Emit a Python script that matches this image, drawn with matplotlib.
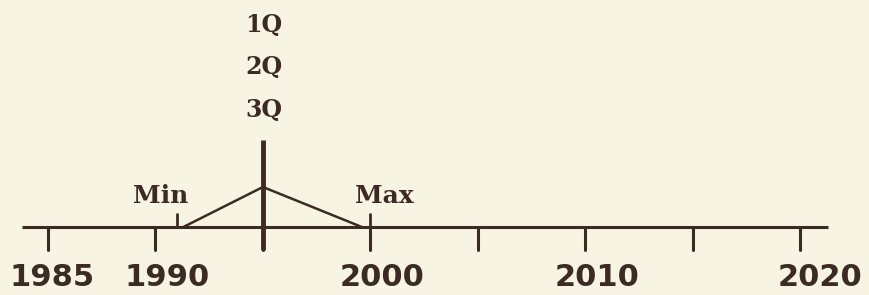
import matplotlib.pyplot as plt

# timeline data
years = [1985, 1990, 1995, 2000, 2005, 2010, 2015, 2020]
year_labels = ["1985", "1990", "", "2000", "", "2010", "", "2020"]
label_shift = [0.2, 0.55, 0, 0.55, 0, 0.55, 0, 0.9]
min_year = 1991
max_year = 2000
mode_year = 1995
tri_x = [1991.3, 1995, 1999.6]
tri_y = [0, 40, 0]
quartiles = ["1Q", "2Q", "3Q"]
q_heights = [202, 160, 117]

bg = "#f8f4e3"
ink = "#3b2b24"

fig = plt.figure(figsize=(8.69, 2.95), dpi=100, facecolor=bg)
ax = fig.add_axes([0, 0, 1, 1])
ax.set_facecolor(bg)
ax.set_xlim(1982.77, 2023.19)
ax.set_ylim(-68, 227)
ax.axis("off")

# main axis line
ax.plot([1983.8, 2021.3], [0, 0], color=ink, lw=2.2, solid_capstyle="butt")

for yr, lab, dx in zip(years, year_labels, label_shift):
    ax.plot([yr, yr], [0, -23], color=ink, lw=2.2, solid_capstyle="round")
    if lab:
        ax.text(yr + dx, -50, lab, ha="center", va="center", color=ink,
                fontsize=22, fontweight="bold", family="DejaVu Sans")

# min / max markers
ax.plot([min_year, min_year], [0, 14], color=ink, lw=2, solid_capstyle="butt")
ax.plot([max_year, max_year], [0, 14], color=ink, lw=2, solid_capstyle="butt")
ax.text(1990.25, 31, "Min", ha="center", va="center", color=ink,
        fontsize=18, fontweight="bold", family="DejaVu Serif")
ax.text(2000.65, 31, "Max", ha="center", va="center", color=ink,
        fontsize=18, fontweight="bold", family="DejaVu Serif")

# triangular distribution
ax.plot(tri_x, tri_y, color=ink, lw=1.8)

# mode line with quartile labels
ax.plot([mode_year, mode_year], [-23, 87], color=ink, lw=3.5, solid_capstyle="butt")
for q, h in zip(quartiles, q_heights):
    ax.text(mode_year + 0.05, h, q, ha="center", va="center", color=ink,
            fontsize=17, fontweight="bold", family="DejaVu Serif")

plt.savefig("out.png", dpi=100, facecolor=bg)
